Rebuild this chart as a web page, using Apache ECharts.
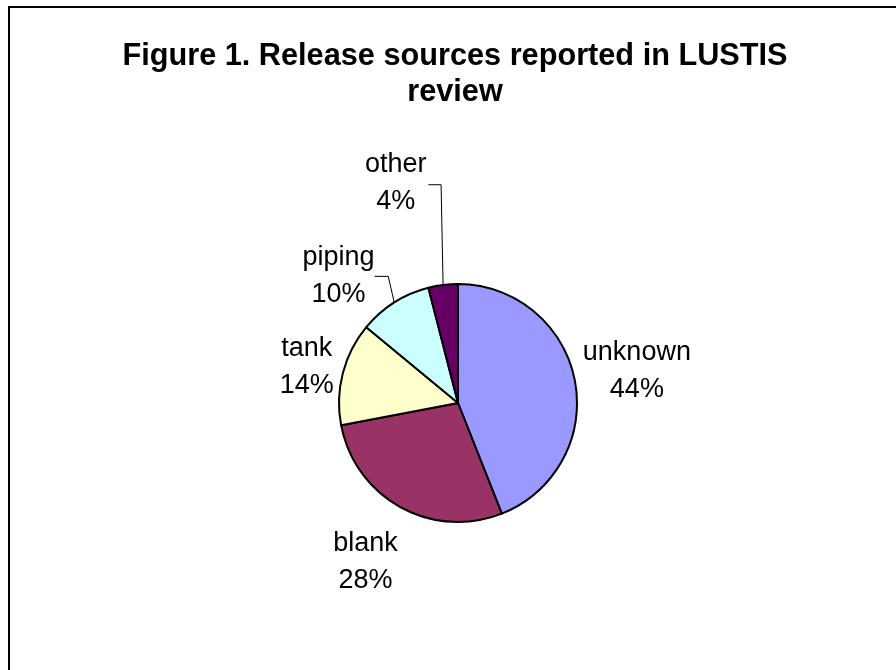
<!DOCTYPE html>
<html>
<head>
<meta charset="utf-8">
<script src="https://cdn.jsdelivr.net/npm/echarts@6/dist/echarts.min.js"></script>
<style>
  html, body { margin: 0; padding: 0; background: #fff; }
  #chart { width: 896px; height: 670px; }
</style>
</head>
<body>
<div id="chart"></div>
<script>
const titleText = 'Figure 1. Release sources reported in LUSTIS\nreview';
const categories = ['unknown', 'blank', 'tank', 'piping', 'other'];
const shares = [44, 28, 14, 10, 4];

const palette = ['#9999FF', '#993366', '#FFFFCC', '#CCFFFF', '#660066'];
const font = '"Liberation Sans", Arial, sans-serif';

// hand-tuned label placement, like Excel puts them
// lean = how far the leader's bend sits from the slice edge, so it goes up steeper
const labelPlacement = {
  unknown: { length: 3, length2: 0, dist: 5, line: false, pad: [0, 0, 18, 0], lean: 0 },
  blank:   { length: 62, length2: 0, dist: -27, line: false, pad: 0, lean: 0 },
  tank:    { length: 4, length2: 0, dist: 5, line: false, pad: [0, 0, 10, 0], lean: 0 },
  piping:  { length: 31, length2: 3, dist: 0, line: true, pad: 0, lean: 6 },
  other:   { length: 101, length2: 2, dist: 2, line: true, pad: [0, 0, 4, 0], lean: 2 }
};

const chart = echarts.init(document.getElementById('chart'), null, { renderer: 'canvas' });

const pieData = categories.map((name, i) => {
  const p = labelPlacement[name];
  return {
    name,
    value: shares[i],
    itemStyle: { color: palette[i] },
    label: { distanceToLabelLine: p.dist, padding: p.pad },
    labelLine: { show: p.line, length: p.length, length2: p.length2 }
  };
});

chart.setOption({
  backgroundColor: '#fff',
  animation: false,
  title: {
    text: titleText,
    left: 455,
    top: 39,
    padding: 0,
    textAlign: 'center',
    textStyle: {
      fontFamily: font,
      fontWeight: 'bold',
      fontSize: 30.7,
      lineHeight: 36,
      color: '#000'
    }
  },
  graphic: [
    {
      type: 'rect',
      silent: true,
      shape: { x: 9, y: 7, width: 1000, height: 1000 },
      style: { fill: 'none', stroke: '#000', lineWidth: 2 }
    }
  ],
  series: [
    {
      type: 'pie',
      center: [458, 403],
      radius: 119,
      startAngle: 90,
      clockwise: true,
      avoidLabelOverlap: false,
      itemStyle: { borderColor: '#000', borderWidth: 2 },
      label: {
        show: true,
        position: 'outside',
        formatter: '{a|{b}}\n{a|{d}%}',
        rich: {
          a: {
            fontFamily: font,
            fontSize: 27,
            lineHeight: 37,
            align: 'center',
            color: '#000'
          }
        }
      },
      labelLine: {
        lineStyle: { color: '#000', width: 1 }
      },
      labelLayout: function (params) {
        const p = labelPlacement[categories[params.dataIndex]];
        const pts = params.labelLinePoints;
        if (!p || !p.line || !pts || pts.length < 3) return {};
        return {
          labelLinePoints: [pts[0], [pts[0][0] - p.lean, pts[1][1]], pts[2]]
        };
      },
      emphasis: { disabled: true },
      data: pieData
    }
  ]
});
</script>
</body>
</html>
